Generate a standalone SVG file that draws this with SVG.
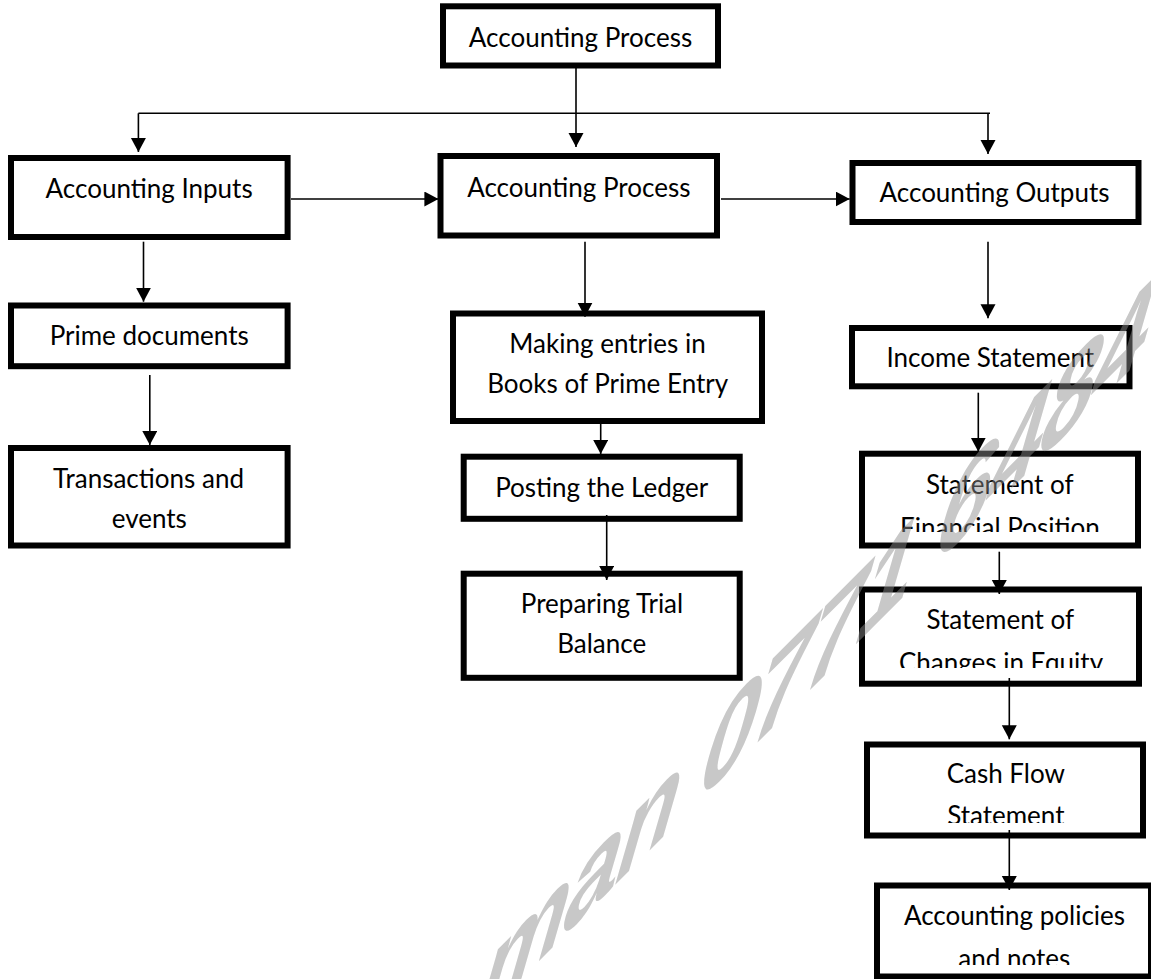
<svg xmlns="http://www.w3.org/2000/svg" width="1151" height="979" viewBox="0 0 1151 979">
<style>
.box{fill:#fff;stroke:#000;stroke-width:6}
.t{font-family:Lato,"Liberation Sans",sans-serif;font-size:26px;fill:#000;text-anchor:middle}
.c{fill:none;stroke:#000;stroke-width:1.6}
.wm{font-family:"Liberation Sans",Arial,sans-serif;font-style:italic;font-weight:bold;font-size:100px;letter-spacing:-3px;fill:#8d8d8d;fill-opacity:0.48}
</style>
<defs>
<marker id="ah" markerUnits="userSpaceOnUse" markerWidth="16" markerHeight="16" refX="14" refY="7.5" orient="auto">
<path d="M0,0 L14,7.5 L0,15 z" fill="#000"/>
</marker>
<clipPath id="cSFP"><rect x="865" y="456" width="270" height="76"/></clipPath>
<clipPath id="cSOCE"><rect x="865" y="592" width="271" height="76"/></clipPath>
<clipPath id="cCash"><rect x="870" y="747" width="270" height="76"/></clipPath>
<clipPath id="cPol"><rect x="880" y="888" width="271" height="77"/></clipPath>
</defs>

<g id="n-top">
<rect class="box" x="443" y="6.3" width="275" height="59.2"/>
<text class="t" x="580.5" y="46.7">Accounting Process</text>
</g>
<g id="n-inputs">
<rect class="box" x="11" y="158" width="276.6" height="79"/>
<text class="t" x="149.1" y="198.3">Accounting Inputs</text>
</g>
<g id="n-process">
<rect class="box" x="440.5" y="156" width="276.5" height="79.5"/>
<text class="t" x="578.8" y="196.7">Accounting Process</text>
</g>
<g id="n-outputs">
<rect class="box" x="852.5" y="163" width="286" height="59"/>
<text class="t" x="994.5" y="201.7">Accounting Outputs</text>
</g>
<g id="n-prime">
<rect class="box" x="11" y="305.5" width="276.6" height="60.7"/>
<text class="t" x="149.2" y="345">Prime documents</text>
</g>
<g id="n-trans">
<rect class="box" x="11" y="448" width="276.6" height="97.5"/>
<text class="t" x="148.5" y="488.3">Transactions and</text>
<text class="t" x="149.3" y="528.3">events</text>
</g>
<g id="n-making">
<rect class="box" x="453" y="313.5" width="309" height="107.5"/>
<text class="t" x="607.5" y="353.3">Making entries in</text>
<text class="t" x="607.7" y="393.3">Books of Prime Entry</text>
</g>
<g id="n-posting">
<rect class="box" x="463.7" y="456.7" width="276" height="62.1"/>
<text class="t" x="601.7" y="496.7">Posting the Ledger</text>
</g>
<g id="n-trial">
<rect class="box" x="463.7" y="573.7" width="276" height="104.1"/>
<text class="t" x="602" y="613.3">Preparing Trial</text>
<text class="t" x="601.7" y="653.3">Balance</text>
</g>
<g id="n-income">
<rect class="box" x="852" y="328" width="277.5" height="58.3"/>
<text class="t" x="990.3" y="367.3">Income Statement</text>
</g>
<g id="n-sfp">
<rect class="box" x="862" y="453.7" width="276" height="91.8"/>
<text class="t" x="999.8" y="494">Statement of</text>
<text class="t" x="999.9" y="537" clip-path="url(#cSFP)">Financial Position</text>
</g>
<g id="n-soce">
<rect class="box" x="862" y="589.5" width="277" height="94.2"/>
<text class="t" x="1000.3" y="629">Statement of</text>
<text class="t" x="1001" y="672" clip-path="url(#cSOCE)">Changes in Equity</text>
</g>
<g id="n-cash">
<rect class="box" x="867" y="744.5" width="276" height="91"/>
<text class="t" x="1005.8" y="783.3">Cash Flow</text>
<text class="t" x="1005.8" y="825" clip-path="url(#cCash)">Statement</text>
</g>
<g id="n-policies">
<rect class="box" x="877" y="885.5" width="274" height="91"/>
<text class="t" x="1014.5" y="925">Accounting policies</text>
<text class="t" x="1014.3" y="968" clip-path="url(#cPol)">and notes</text>
</g>

<g id="connectors">
<line class="c" x1="138.4" y1="113.3" x2="990" y2="113.3"/>
<line class="c" x1="576" y1="68" x2="576" y2="147" marker-end="url(#ah)"/>
<line class="c" x1="138.4" y1="113.3" x2="138.4" y2="152" marker-end="url(#ah)"/>
<line class="c" x1="988" y1="113.3" x2="988" y2="154" marker-end="url(#ah)"/>
<line class="c" x1="291" y1="199" x2="438.4" y2="199" marker-end="url(#ah)"/>
<line class="c" x1="721" y1="199" x2="849.7" y2="199" marker-end="url(#ah)"/>
<line class="c" x1="143.5" y1="241.7" x2="143.5" y2="301.7" marker-end="url(#ah)"/>
<line class="c" x1="149.8" y1="375" x2="149.8" y2="445" marker-end="url(#ah)"/>
<line class="c" x1="585" y1="241.7" x2="585" y2="316.7" marker-end="url(#ah)"/>
<line class="c" x1="600.7" y1="424" x2="600.7" y2="454" marker-end="url(#ah)"/>
<line class="c" x1="606.7" y1="515" x2="606.7" y2="580" marker-end="url(#ah)"/>
<line class="c" x1="988" y1="241.7" x2="988" y2="318.3" marker-end="url(#ah)"/>
<line class="c" x1="978.3" y1="392.7" x2="978.3" y2="451.7" marker-end="url(#ah)"/>
<line class="c" x1="999.3" y1="551.7" x2="999.3" y2="594" marker-end="url(#ah)"/>
<line class="c" x1="1009.3" y1="678" x2="1009.3" y2="739.3" marker-end="url(#ah)"/>
<line class="c" x1="1009.3" y1="830" x2="1009.3" y2="890" marker-end="url(#ah)"/>
</g>

<g id="watermark">
<text class="wm" transform="translate(715,785) skewY(-45) skewX(-12)" x="-240" y="0">man 0771 6484</text>
</g>
</svg>
